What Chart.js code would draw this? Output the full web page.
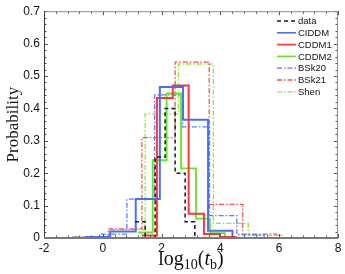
<!DOCTYPE html>
<html><head><meta charset="utf-8">
<script src="https://cdn.jsdelivr.net/npm/chart.js@4/dist/chart.umd.min.js"></script>
<style>
html,body{margin:0;padding:0;background:#fff;}
#wrap{position:relative;width:345px;height:274px;overflow:hidden;}
#c{position:absolute;left:0;top:0;}
#xtitle{position:absolute;left:44px;width:294px;top:246px;height:26px;line-height:24px;text-align:center;
  font-family:"Liberation Serif","Times New Roman",serif;font-size:20px;color:#111;white-space:nowrap;}
#xtitle sub{font-size:14px;line-height:0;vertical-align:-4px;}
#xtitle i{font-style:italic;}
</style></head><body>
<div id="wrap"><canvas id="c" width="345" height="274"></canvas>
<div id="xtitle">log<sub>10</sub>(<i>t</i><sub>b</sub>)</div></div>
<script>
// bin edges (log10 t_b) and probabilities per series
const dataEdges  = [1.10, 1.44, 1.78, 2.12, 2.46, 2.80, 3.13];
const dataProb   = [0.05, 0.0, 0.25, 0.40, 0.20, 0.05];
const ciddmEdges = [-0.60, 0.25, 1.12, 1.94, 2.73, 3.58, 4.41];
const ciddmProb  = [0.003, 0.02, 0.12, 0.466, 0.365, 0.022];
const cddm1Edges = [1.32, 1.84, 2.38, 2.92, 3.44, 3.98, 4.52];
const cddm1Prob  = [0.008, 0.432, 0.471, 0.075, 0.012, 0.003];
const cddm2Edges = [1.20, 1.70, 2.17, 2.66, 3.17, 3.64, 4.15];
const cddm2Prob  = [0.017, 0.24, 0.446, 0.215, 0.06, 0.015];
const bsk20Edges = [-1.04, -0.11, 0.82, 1.76, 2.71, 3.63, 4.56, 5.49];
const bsk20Prob  = [0.003, 0.012, 0.12, 0.442, 0.343, 0.069, 0.01];
const bsk21Edges = [-0.97, 0.18, 1.33, 2.46, 3.62, 4.76, 5.91];
const bsk21Prob  = [0.003, 0.028, 0.31, 0.543, 0.104, 0.012];
const shenEdges  = [-0.92, 0.26, 1.44, 2.57, 3.76, 4.95, 6.13];
const shenProb   = [0.003, 0.026, 0.383, 0.537, 0.045, 0.008];

const seriesNames = ["data", "CIDDM", "CDDM1", "CDDM2", "BSk20", "BSk21", "Shen"];
const xTicks = [-2, 0, 2, 4, 6, 8];
const yTicks = [0, 0.1, 0.2, 0.3, 0.4, 0.5, 0.6, 0.7];

function hist(edges, probs){
  return edges.map((e,i)=>({x:e, y: i<probs.length ? probs[i] : 0}));
}
const DD = [5,2,1.5,2];
const datasets = [
  {label:seriesNames[0], data:hist(dataEdges,dataProb),  borderColor:'#1a1a1a', borderWidth:1.5, borderDash:[4,3]},
  {label:seriesNames[1], data:hist(ciddmEdges,ciddmProb), borderColor:'#4c6ef5', borderWidth:2},
  {label:seriesNames[2], data:hist(cddm1Edges,cddm1Prob), borderColor:'#ff3535', borderWidth:2},
  {label:seriesNames[3], data:hist(cddm2Edges,cddm2Prob), borderColor:'#5fe81f', borderWidth:1.8},
  {label:seriesNames[4], data:hist(bsk20Edges,bsk20Prob), borderColor:'#5a7cff', borderWidth:1.3, borderDash:DD},
  {label:seriesNames[5], data:hist(bsk21Edges,bsk21Prob), borderColor:'#ff4d4d', borderWidth:1.3, borderDash:DD},
  {label:seriesNames[6], data:hist(shenEdges,shenProb),   borderColor:'#8fe83a', borderWidth:1.3, borderDash:DD}
].map(d=>Object.assign(d,{stepped:'before', pointRadius:0, fill:false, tension:0}));

const framePlugin = {
  id:'frame',
  afterDraw(chart){
    const {ctx, chartArea:{left,right,top,bottom}, scales:{x,y}} = chart;
    ctx.save();
    ctx.lineWidth = 1; ctx.strokeStyle = '#555';
    // minor/major ticks (inside)
    for(let i=0;i<=25;i++){
      const v = -2 + 0.4*i, px = Math.round(x.getPixelForValue(v))+0.5, len = (i%5===0)?4:2.5;
      ctx.beginPath(); ctx.moveTo(px,bottom); ctx.lineTo(px,bottom-len);
      ctx.moveTo(px,top); ctx.lineTo(px,top+len); ctx.stroke();
    }
    for(let i=0;i<=35;i++){
      const v = 0.02*i, py = Math.round(y.getPixelForValue(v))+0.5, len = (i%5===0)?4:2.5;
      ctx.beginPath(); ctx.moveTo(left,py); ctx.lineTo(left+len,py);
      ctx.moveTo(right,py); ctx.lineTo(right-len,py); ctx.stroke();
    }
    // frame
    ctx.strokeStyle = '#8a8a8a';
    ctx.beginPath(); ctx.moveTo(left,top+0.5); ctx.lineTo(right,top+0.5);
    ctx.moveTo(right-0.5,top); ctx.lineTo(right-0.5,bottom); ctx.stroke();
    ctx.strokeStyle = '#3a3a3a';
    ctx.beginPath(); ctx.moveTo(left+0.5,top); ctx.lineTo(left+0.5,bottom); ctx.stroke();
    ctx.strokeStyle = '#7a7a7a'; ctx.lineWidth = 2;
    ctx.beginPath(); ctx.moveTo(left,bottom); ctx.lineTo(right,bottom); ctx.stroke();
    // legend
    ctx.font = '9.5px "Liberation Sans", Arial, sans-serif';
    ctx.textBaseline = 'middle'; ctx.textAlign = 'left'; ctx.fillStyle = '#111';
    chart.data.datasets.forEach((d,i)=>{
      const yy = top + 9.8 + i*11.8;
      ctx.save();
      ctx.strokeStyle = d.borderColor; ctx.lineWidth = Math.min(d.borderWidth,1.6);
      ctx.setLineDash(d.borderDash || []);
      ctx.beginPath(); ctx.moveTo(right-61, yy); ctx.lineTo(right-42, yy); ctx.stroke();
      ctx.restore();
      ctx.fillText(d.label, right-40, yy+0.5);
    });
    ctx.restore();
  }
};

new Chart(document.getElementById('c'), {
  type:'line',
  data:{datasets},
  options:{
    responsive:false, animation:false, devicePixelRatio:1,
    layout:{padding:{top:10,right:7,bottom:0,left:0}},
    plugins:{legend:{display:false}, tooltip:{enabled:false}},
    scales:{
      x:{type:'linear', min:-2, max:8,
         afterBuildTicks(s){ s.ticks = xTicks.map(v=>({value:v})); },
         afterFit(s){ s.height = 36; },
         grid:{display:false, drawTicks:false}, border:{display:false},
         ticks:{padding:3, color:'#111', font:{family:'"Liberation Sans", Arial, sans-serif', size:12},
                callback:v=>String(v)}},
      y:{type:'linear', min:0, max:0.7,
         afterBuildTicks(s){ s.ticks = yTicks.map(v=>({value:v})); },
         afterFit(s){ s.width = 44; },
         grid:{display:false, drawTicks:false}, border:{display:false},
         ticks:{padding:4, color:'#111', font:{family:'"Liberation Sans", Arial, sans-serif', size:12},
                callback:v=> v===0 ? '0' : (Math.round(v*10)/10).toFixed(1)},
         title:{display:true, text:'Probability', color:'#111', padding:{top:3,bottom:0},
                font:{family:'"Liberation Serif","Times New Roman", serif', size:17}}}
    }
  },
  plugins:[framePlugin]
});
</script>
</body></html>
